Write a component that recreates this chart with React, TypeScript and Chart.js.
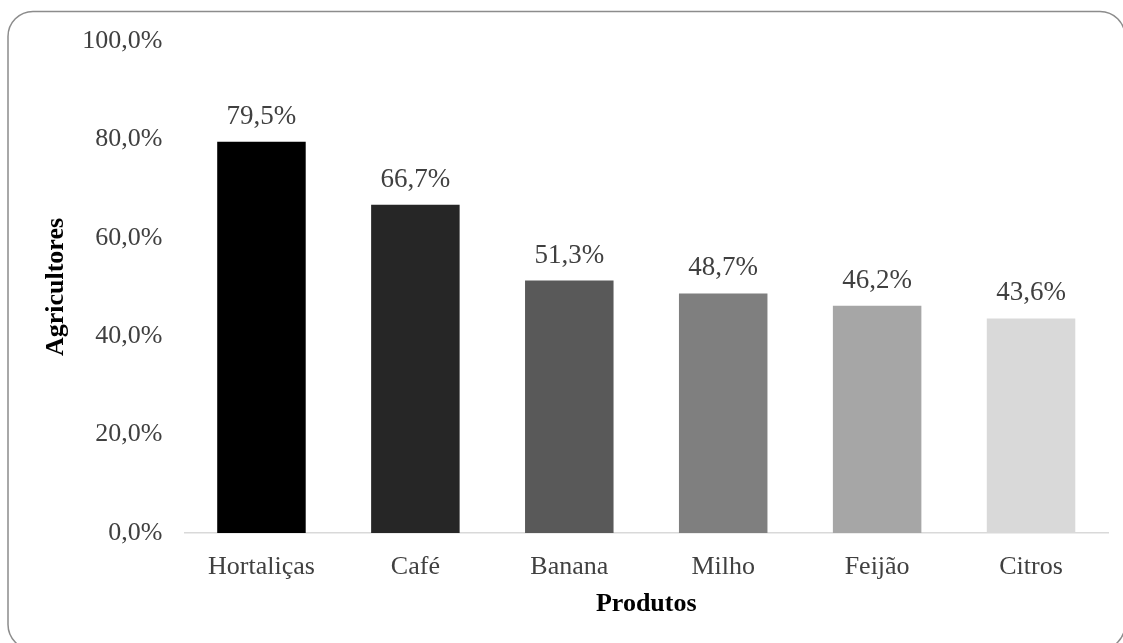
import React, { useEffect, useRef } from "react";
import { Chart, registerables } from "chart.js";

Chart.register(...registerables);

// Share of farmers per product
const categories = ["Hortaliças", "Café", "Banana", "Milho", "Feijão", "Citros"];
const values = [79.5, 66.7, 51.3, 48.7, 46.2, 43.6];
const barColors = ["#000000", "#262626", "#595959", "#7f7f7f", "#a6a6a6", "#d9d9d9"];
const yTicks = [0, 20, 40, 60, 80, 100];
const xTitle = "Produtos";
const yTitle = "Agricultores";

const FONT = "'Liberation Serif', 'Times New Roman', serif";
const fmt = (v: number) => v.toFixed(1).replace(".", ",") + "%";

// Rounded frame around the whole chart
const framePlugin = {
  id: "frame",
  beforeDraw(chart: any) {
    const ctx = chart.ctx;
    ctx.save();
    ctx.fillStyle = "#ffffff";
    ctx.fillRect(0, 0, chart.width, chart.height);
    ctx.beginPath();
    ctx.roundRect(8, 11.5, 1117, 638, 25);
    ctx.lineWidth = 1.5;
    ctx.strokeStyle = "#8c8c8c";
    ctx.stroke();
    ctx.restore();
  },
};

// Value labels above each bar
const valueLabelPlugin = {
  id: "valueLabels",
  afterDatasetsDraw(chart: any) {
    const ctx = chart.ctx;
    const meta = chart.getDatasetMeta(0);
    ctx.save();
    ctx.font = `27px ${FONT}`;
    ctx.fillStyle = "#404040";
    ctx.textAlign = "center";
    ctx.textBaseline = "alphabetic";
    meta.data.forEach((bar: any, i: number) => {
      ctx.fillText(fmt(values[i]), bar.x, bar.y - 18);
    });
    ctx.restore();
  },
};

export default function App() {
  const canvasRef = useRef<HTMLCanvasElement | null>(null);

  useEffect(() => {
    if (!canvasRef.current) return;
    const chart = new Chart(canvasRef.current, {
      type: "bar",
      data: {
        labels: categories,
        datasets: [
          {
            data: values,
            backgroundColor: barColors,
            borderWidth: 0,
            barPercentage: 0.575,
            categoryPercentage: 1,
          },
        ],
      },
      options: {
        responsive: false,
        animation: false,
        layout: { padding: { top: 41, right: 15, bottom: 23, left: 41 } },
        plugins: {
          legend: { display: false },
          tooltip: { enabled: false },
        },
        scales: {
          x: {
            grid: { display: false, drawTicks: false },
            border: { display: true, color: "#d9d9d9", width: 1.5 },
            ticks: {
              color: "#404040",
              font: { family: FONT, size: 26 },
              padding: 19,
              maxRotation: 0,
            },
            title: {
              display: true,
              text: xTitle,
              color: "#000000",
              font: { family: FONT, size: 26, weight: "bold" },
              padding: 0,
            },
            afterFit(scale: any) {
              scale.height = 87;
            },
          },
          y: {
            min: 0,
            max: 100,
            grid: { display: false, drawTicks: false },
            border: { display: false },
            afterBuildTicks(scale: any) {
              scale.ticks = yTicks.map((v) => ({ value: v }));
            },
            ticks: {
              color: "#404040",
              font: { family: FONT, size: 26 },
              padding: 22,
              callback: (v: any) => fmt(Number(v)),
            },
            title: {
              display: true,
              text: yTitle,
              color: "#000000",
              font: { family: FONT, size: 26, weight: "bold" },
              padding: 0,
            },
            afterFit(scale: any) {
              scale.width = 143.5;
            },
          },
        },
      },
      plugins: [framePlugin, valueLabelPlugin],
    });
    return () => chart.destroy();
  }, []);

  return (
    <div style={{ position: "fixed", left: 0, top: 0, width: 1123, height: 643 }}>
      <canvas ref={canvasRef} width={1123} height={643} />
    </div>
  );
}
